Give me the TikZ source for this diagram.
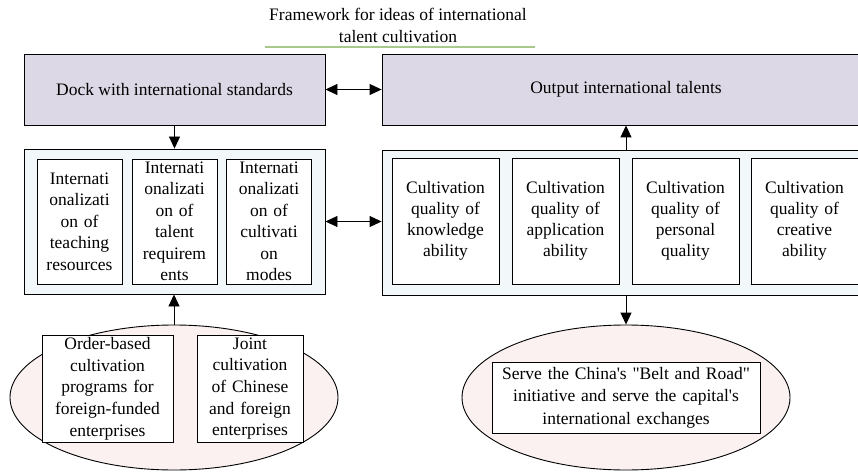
\documentclass[tikz,border=0pt]{standalone}
\usepackage{fontspec}
\setmainfont{Liberation Serif}[Ligatures=TeXOff]
\usetikzlibrary{arrows.meta,shapes.geometric}
\definecolor{boxlilac}{RGB}{221,216,229}
\definecolor{panelblue}{RGB}{242,247,250}
\definecolor{ovalpink}{RGB}{250,241,240}
\definecolor{titlegreen}{RGB}{168,200,140}

\begin{document}
\begin{tikzpicture}[x=1pt,y=-1pt,line width=0.9pt,
    every node/.style={font=\fontsize{17.5}{21}\selectfont,align=center,inner sep=0pt},
    headbox/.style={draw,fill=boxlilac,minimum height=71pt},
    panel/.style={draw,fill=panelblue,minimum height=145pt},
    itembox/.style={draw,fill=white,text width=#1,minimum width=#1},
    oval/.style={draw,ellipse,fill=ovalpink,minimum width=328pt,minimum height=145pt},
    link/.style={-{Triangle[length=12pt,width=11pt]}},
    twolink/.style={{Triangle[length=12pt,width=11pt]}-{Triangle[length=12pt,width=11pt]}}]
  \clip (0,0) rectangle (858,473);

  % title
  \node[font=\fontsize{17.5}{22}\selectfont] (title) at (398,25.5)
    {Framework for ideas of international\\talent cultivation};
  \draw[titlegreen,line width=1.2pt] (265,47) -- (535,47);

  % top row
  \node[headbox,minimum width=301pt] (dock) at (174.5,89.5) {Dock with international standards};
  \node[headbox,minimum width=488pt] (output) at (626,89.5) {Output international talents};

  % panels
  \node[panel,minimum width=301pt] (intl) at (174.5,221.5) {};
  \node[panel,minimum width=488pt] (quality) at (626,222.5) {};
  \foreach \name/\x/\txt in {
      resA/79.5/{Internati\\onalizati\\on of\\teaching\\resources},
      resB/174.5/{Internati\\onalizati\\on of\\talent\\requirem\\ents},
      resC/269/{Internati\\onalizati\\on of\\cultivati\\on\\modes}} {
    \node[itembox=85pt,minimum height=125pt,font=\fontsize{17.5}{21.5}\selectfont] (\name) at (\x,221.5) {\txt};
  }
  \foreach \name/\x/\txt in {
      qualA/445.5/{Cultivation\\quality of\\knowledge\\ability},
      qualB/565.5/{Cultivation\\quality of\\application\\ability},
      qualC/685.5/{Cultivation\\quality of\\personal\\quality},
      qualD/804.5/{Cultivation\\quality of\\creative\\ability}} {
    \node[itembox=107pt,minimum height=126pt] (\name) at (\x,221) {\txt};
  }

  % ovals
  \node[oval] (firms) at (174,397.5) {};
  \node[itembox=131pt,minimum height=107pt,font=\fontsize{17.5}{21.7}\selectfont] (order) at (107.5,388.5)
    {Order-based\\cultivation\\programs for\\foreign-funded\\enterprises};
  \node[itembox=106pt,minimum height=107pt,font=\fontsize{17.5}{21.7}\selectfont] (joint) at (250,388.5)
    {Joint\\cultivation\\of Chinese\\and foreign\\enterprises};
  \node[oval] (serve) at (626,397.5) {};
  \node[itembox=268pt,minimum height=71pt,font=\fontsize{17.5}{22.5}\selectfont] (belt) at (626,397.5)
    {Serve the China's "Belt and Road"\\initiative and serve the capital's\\international exchanges};

  % links
  \draw[twolink] (dock.east) -- (output.west);
  \draw[link] (dock.south) -- (intl.north);
  \draw[twolink] (intl.east) -- (intl.east -| quality.west);
  \draw[link] (quality.north) -- (output.south);
  \draw[link] (quality.south) -- (serve.north);
  \draw[link] (firms.north) -- (firms.north |- intl.south);
\end{tikzpicture}
\end{document}
